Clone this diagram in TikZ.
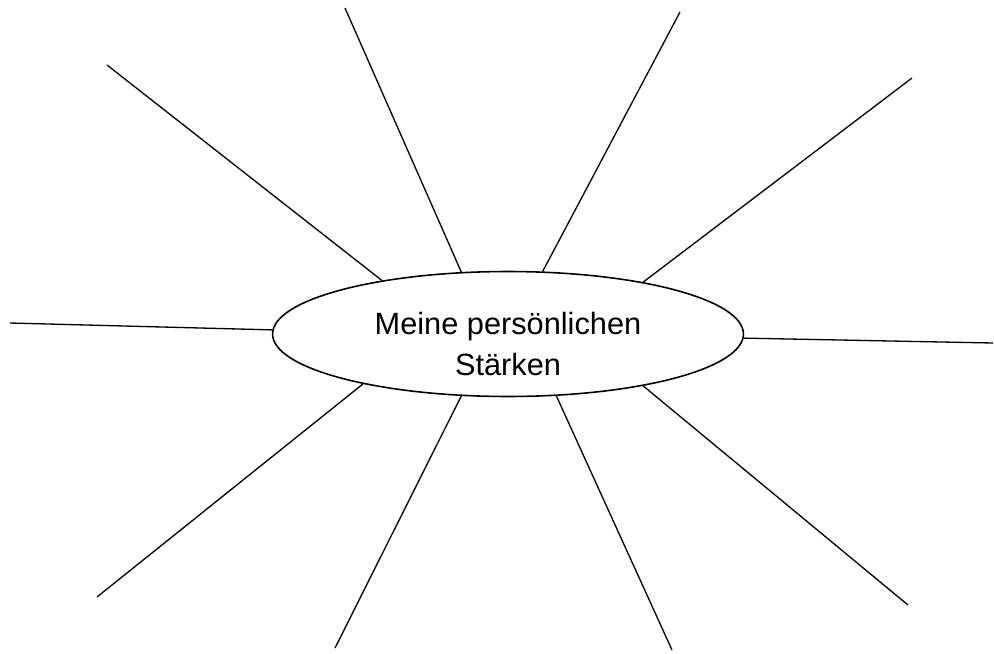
\documentclass[tikz,border=0pt]{standalone}
\usepackage{fontspec}
\setmainfont{Liberation Sans}
\usetikzlibrary{shapes.geometric}
\tikzset{
  hub/.style={draw=black, ellipse, line width=0.9pt, inner sep=0pt, minimum width=9.42cm, minimum height=2.5cm},
  hubtext/.style={align=center, inner sep=0pt, font=\fontsize{17.5}{23.9}\selectfont},
  spoke/.style={draw=black, line width=0.75pt},
}
\begin{document}
\begin{tikzpicture}[x=0.02cm, y=-0.02cm]
  \useasboundingbox (0,0) rectangle (994,653);
  \node[hub] (mind) at (508,334) {};
  \node[hubtext] (title) at (508,344) {Meine persönlichen\\Stärken};
  % spokes: number / border angle / free end
  \foreach \i/\ang/\ex/\ey in {1/157/107/65, 2/127/345/8, 3/61/680/12, 4/21/912/78, 5/179/10/323,
      6/359/993/343, 7/199/97/597, 8/233/335/648, 9/308/672/650, 10/339/908/605}{
    \coordinate (end\i) at (\ex,\ey);
    \draw[spoke] (mind.\ang) -- (end\i);
  }
\end{tikzpicture}
\end{document}
